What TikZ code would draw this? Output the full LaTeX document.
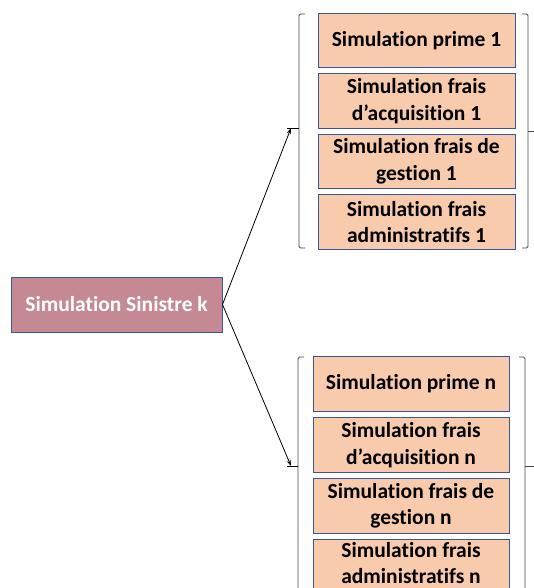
\documentclass[tikz,border=0pt]{standalone}
\usepackage{fontspec}
\setmainfont{Carlito}[Ligatures=NoCommon]
\usepackage{tikz}
\usetikzlibrary{arrows.meta,positioning}
\definecolor{sinfill}{RGB}{196,137,147}
\definecolor{simfill}{RGB}{248,203,173}
\definecolor{boxedge}{RGB}{60,85,150}
\definecolor{brkgray}{RGB}{70,70,70}
\tikzset{
  basebox/.style={rectangle,draw=boxedge,line width=1pt,align=center,inner sep=0pt,
    font=\fontsize{21.5pt}{26.5pt}\selectfont\bfseries},
  sinnode/.style={basebox,fill=sinfill,text=white,minimum width=211pt,minimum height=55pt},
  simnode/.style={basebox,fill=simfill,text=black,minimum width=197pt,minimum height=54.5pt},
  brk/.style={draw=brkgray,line width=0.9pt,rounded corners=1.5pt},
  arr/.style={-{Stealth[length=6pt,width=4pt]},line width=0.8pt,color=black}
}

\begin{document}
\begin{tikzpicture}[x=1pt,y=1pt]
  \useasboundingbox (0,0) rectangle (534,-588);
  \clip (0,0) rectangle (534,-588);

  %% Left node
  \node[sinnode] (sin) at (116.5,-304.5) {Simulation Sinistre k};

  %% Group 1
  \node[simnode] (prime1) at (416.5,-40.5) {Simulation prime 1};
  \node[simnode,below=5pt of prime1] (acq1) {Simulation frais\\d’acquisition 1};
  \node[simnode,below=5pt of acq1] (gest1) {Simulation frais de\\gestion 1};
  \node[simnode,below=5pt of gest1] (adm1) {Simulation frais\\administratifs 1};

  %% Group n
  \node[simnode,minimum width=196pt] (primen) at (411,-384) {Simulation prime n};
  \node[simnode,minimum width=196pt,below=5.5pt of primen] (acqn) {Simulation frais\\d’acquisition n};
  \node[simnode,minimum width=196pt,below=5.5pt of acqn] (gestn) {Simulation frais de\\gestion n};
  \node[simnode,minimum width=196pt,minimum height=50pt,text depth=4pt,below=5.5pt of gestn] (admn) {Simulation frais\\administratifs n};

  %% Brackets
  \coordinate (g1) at (287,-128);
  \coordinate (gn) at (287,-466);
  \draw[brk] (305,-14) -- (299,-14) -- (299,-248) -- (305,-248);
  \draw (g1) -- (299,-128);
  \draw[brk] (522,-14) -- (528,-14) -- (528,-248) -- (522,-248);
  \draw[brkgray,line width=0.9pt] (528,-131) -- (534,-131);
  \draw[brk] (304,-357) -- (298,-357) -- (298,-600);
  \draw (gn) -- (298,-466);
  \draw[brk] (519,-357) -- (525,-357) -- (525,-600);
  \draw[brkgray,line width=0.9pt] (525,-466) -- (534,-466);

  %% Arrows
  \draw[arr] (sin.east) -- ([xshift=4pt]g1);
  \draw[arr] (sin.east) -- ([xshift=4pt]gn);
\end{tikzpicture}
\end{document}
